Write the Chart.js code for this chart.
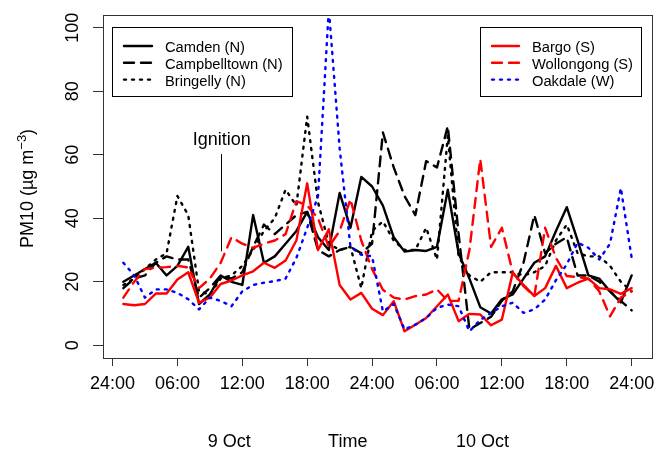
<!DOCTYPE html>
<html>
<head>
<meta charset="utf-8">
<script src="https://cdn.jsdelivr.net/npm/chart.js@4.4.1/dist/chart.umd.min.js"></script>
<style>
  html, body { margin: 0; padding: 0; background: #fff; }
  #wrap { width: 664px; height: 450px; }
</style>
</head>
<body>
<div id="wrap"><canvas id="pmChart" width="664" height="450"></canvas></div>
<script>
// hours after 00:00 on 9 Oct (hourly values, ending hour)
const hours = Array.from({ length: 48 }, (_, i) => i + 1);

const tickHours = [0, 6, 12, 18, 24, 30, 36, 42, 48];
const tickLabels = ['24:00', '06:00', '12:00', '18:00', '24:00', '06:00', '12:00', '18:00', '24:00'];
const yTicks = [0, 20, 40, 60, 80, 100];

const camden = [20, 22, 24, 26, 22, 25, 31, 13, 16, 22, 20, 19, 41, 26, 28, 32, 36, 42, 34, 30, 48, 37, 53, 50,
                44, 34, 29.5, 30, 29.7, 31, 49, 29, 21, 12, 10, 14.5, 16, 21, 26, 28, 36, 43.5, 33, 22, 21, 17, 13.5, 22];
const campbelltown = [18, 21, 22, 26, 28, 27, 27, 15, 18, 22, 21, 23, 31, 38, 35, 38, 41, 42, 30, 28, 30, 31, 29, 32,
                      67, 56, 47, 41, 58, 56, 69, 35, 5, 7, 9, 14, 17, 26, 41, 29, 32, 34, 22, 22, 20, 17, 14, 11];
const bringelly = [19, 21, 24, 27, 29, 47, 41, 17, 16, 21, 22, 25, 30, 36, 40, 49, 44, 72, 45, 32, 30, 31, 18, 36,
                   39, 33, 30, 30, 37, 27, 66, 28, 22, 20, 23, 23, 23, 22, 23, 25, 33, 38, 29, 28, 28, 25, 20, 17];
const bargo = [13, 12.6, 13, 16.3, 16.3, 20.7, 23, 13.4, 15, 19.3, 20.4, 22, 23.3, 26, 24.4, 26.7, 33, 51, 30, 36.5, 19, 14.4, 16.5, 11.5,
               9.5, 13.9, 4.4, 6.5, 8.6, 12.3, 16, 7.6, 9.9, 9.7, 6.3, 8.1, 22.8, 19, 15.5, 18, 25, 18, 19.7, 21, 18, 17.6, 16.2, 18];
const wollongong = [15, 20, 24, 24.4, 24.6, 25, 24.5, 18, 21, 26, 34, 32, 30.7, 32, 33, 35, 45.4, 44, 40, 31, 36, 46, 33, 24,
                    17.5, 15, 14.4, 15.5, 16, 17.6, 14, 14, 30, 58.6, 31, 37, 23, 18.6, 15.5, 37, 27.5, 21.8, 21.5, 21, 17, 9.1, 15, 17];
const oakdale = [26, 22, 15, 17.6, 17.6, 16.5, 14.5, 11.3, 15, 14, 12.3, 17, 19, 19.7, 20.2, 21, 27.5, 37, 47, 106, 62, 31, 28.5, 28,
                 10.7, 13, 5, 6.5, 8.6, 11.8, 12.8, 12.3, 4.4, 8, 10.2, 12.3, 13.4, 10.2, 11.3, 14.4, 20.5, 25.5, 32.3, 30.7, 27, 32, 49.5, 27.5];

const FONT = "'Liberation Sans', Arial, Helvetica, sans-serif";
const DASH = [10, 7];
const DOT = [2, 6];

function series(label, values, color, dash, order) {
    return {
        label: label,
        data: values.map((v, i) => ({ x: hours[i], y: v })),
        borderColor: color,
        borderWidth: 2.4,
        borderDash: dash,
        borderCapStyle: 'round',
        borderJoinStyle: 'round',
        pointRadius: 0,
        fill: false,
        tension: 0,
        order: order
    };
}

const legendLeft = [
    { label: 'Camden (N)', color: '#000', dash: [] },
    { label: 'Campbelltown (N)', color: '#000', dash: DASH },
    { label: 'Bringelly (N)', color: '#000', dash: DOT }
];
const legendRight = [
    { label: 'Bargo (S)', color: '#ff0000', dash: [] },
    { label: 'Wollongong (S)', color: '#ff0000', dash: DASH },
    { label: 'Oakdale (W)', color: '#0000ff', dash: DOT }
];

function drawLegend(ctx, box, items, lineX0, lineX1, textX) {
    ctx.save();
    ctx.strokeStyle = '#000';
    ctx.lineWidth = 1;
    ctx.strokeRect(box[0] + 0.5, box[1] + 0.5, box[2], box[3]);
    ctx.font = '14.7px ' + FONT;
    ctx.textBaseline = 'alphabetic';
    ctx.textAlign = 'left';
    items.forEach((it, k) => {
        const base = 52 + k * 16.8;
        ctx.beginPath();
        ctx.strokeStyle = it.color;
        ctx.lineWidth = 2.4;
        ctx.lineCap = 'round';
        ctx.setLineDash(it.dash);
        ctx.moveTo(lineX0, base - 6);
        ctx.lineTo(lineX1, base - 6);
        ctx.stroke();
        ctx.setLineDash([]);
        ctx.fillStyle = '#000';
        ctx.fillText(it.label, textX, base);
    });
    ctx.restore();
}

const decorations = {
    id: 'decorations',
    afterDraw(chart) {
        const ctx = chart.ctx;
        const a = chart.chartArea;
        const xs = chart.scales.x;
        const ys = chart.scales.y;

        // plot box
        ctx.save();
        ctx.strokeStyle = '#333';
        ctx.lineWidth = 1;
        ctx.strokeRect(Math.round(a.left) + 0.5, Math.round(a.top) + 0.5,
                       Math.round(a.right - a.left), Math.round(a.bottom - a.top));

        // rotated y tick labels
        ctx.fillStyle = '#000';
        ctx.font = '18px ' + FONT;
        ctx.textAlign = 'center';
        ctx.textBaseline = 'alphabetic';
        yTicks.forEach(v => {
            ctx.save();
            ctx.translate(77.5, ys.getPixelForValue(v));
            ctx.rotate(-Math.PI / 2);
            ctx.fillText(String(v), 0, 0);
            ctx.restore();
        });

        // y title with superscript
        ctx.save();
        ctx.translate(33, (a.top + a.bottom) / 2 + 2);
        ctx.rotate(-Math.PI / 2);
        const main = 'PM10 (\u00b5g m';
        const sup = '\u22123';
        ctx.font = '18px ' + FONT;
        const wMain = ctx.measureText(main).width;
        ctx.font = '13px ' + FONT;
        const wSup = ctx.measureText(sup).width;
        ctx.font = '18px ' + FONT;
        const wEnd = ctx.measureText(')').width;
        const total = wMain + wSup + wEnd;
        let px = -total / 2;
        ctx.textAlign = 'left';
        ctx.fillText(main, px, 0);
        px += wMain;
        ctx.font = '13px ' + FONT;
        ctx.fillText(sup, px, -7);
        px += wSup;
        ctx.font = '18px ' + FONT;
        ctx.fillText(')', px, 0);
        ctx.restore();

        // bottom labels
        ctx.textAlign = 'center';
        ctx.font = '18px ' + FONT;
        ctx.fillText('9 Oct', xs.getPixelForValue(10.8), 447);
        ctx.fillText('Time', xs.getPixelForValue(21.75), 447);
        ctx.fillText('10 Oct', xs.getPixelForValue(34.2), 447);

        // ignition marker
        const ix = Math.round(xs.getPixelForValue(10)) + 0.5;
        ctx.beginPath();
        ctx.strokeStyle = '#000';
        ctx.lineWidth = 1;
        ctx.moveTo(ix, ys.getPixelForValue(60.2));
        ctx.lineTo(ix, ys.getPixelForValue(29.6));
        ctx.stroke();
        ctx.fillText('Ignition', xs.getPixelForValue(10.1), 145);
        ctx.restore();

        drawLegend(ctx, [112, 27, 180, 69], legendLeft, 124, 152, 165);
        drawLegend(ctx, [480, 27, 161, 69], legendRight, 492, 519, 532);
    }
};

const ctx = document.getElementById('pmChart').getContext('2d');
new Chart(ctx, {
    type: 'line',
    data: {
        datasets: [
            series('Camden (N)', camden, '#000000', [], 6),
            series('Campbelltown (N)', campbelltown, '#000000', DASH, 5),
            series('Bringelly (N)', bringelly, '#000000', DOT, 4),
            series('Bargo (S)', bargo, '#ff0000', [], 3),
            series('Wollongong (S)', wollongong, '#ff0000', DASH, 2),
            series('Oakdale (W)', oakdale, '#0000ff', DOT, 1)
        ]
    },
    options: {
        responsive: false,
        animation: false,
        devicePixelRatio: 1,
        layout: { padding: { top: 15, right: 12, left: 0, bottom: 0 } },
        plugins: {
            legend: { display: false },
            tooltip: { enabled: false }
        },
        scales: {
            x: {
                type: 'linear',
                min: -0.88,
                max: 49.88,
                afterBuildTicks: s => { s.ticks = tickHours.map(v => ({ value: v })); },
                afterFit: s => { s.height = 92; },
                ticks: {
                    callback: (v, i) => tickLabels[i],
                    autoSkip: false,
                    maxRotation: 0,
                    minRotation: 0,
                    padding: 7,
                    color: '#000',
                    font: { family: FONT, size: 18 }
                },
                grid: { drawOnChartArea: false, tickLength: 8, color: '#333' },
                border: { display: true, color: '#333' }
            },
            y: {
                min: -4,
                max: 104,
                afterBuildTicks: s => { s.ticks = yTicks.map(v => ({ value: v })); },
                afterFit: s => { s.width = 103; },
                ticks: { display: false },
                grid: { drawOnChartArea: false, tickLength: 10, color: '#333' },
                border: { display: true, color: '#333' }
            }
        }
    },
    plugins: [decorations]
});
</script>
</body>
</html>
